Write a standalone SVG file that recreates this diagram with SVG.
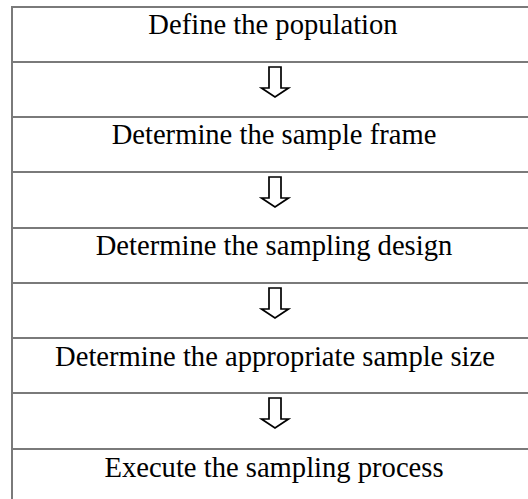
<svg xmlns="http://www.w3.org/2000/svg" xmlns:xlink="http://www.w3.org/1999/xlink" width="528" height="499" viewBox="0 0 528 499">
<style>
.grid{stroke:#7a7a7a;stroke-width:2;fill:none}
.lbl{font-family:"Liberation Serif","Times New Roman",serif;font-size:28.6px;fill:#000;text-anchor:middle}
.arr{fill:#fff;stroke:#000;stroke-width:1.7;stroke-linejoin:miter}
</style>
<defs>
<path id="arrow" class="arr" d="M269,5 H281 V26 H288.5 L275,35 L261.5,26 H269 Z"/>
</defs>
<rect width="528" height="499" fill="#fff"/>
<g id="table">
<path class="grid" d="M12,6 V499 M11,7 H528 M12,62 H528 M12,117 H528 M12,172 H528 M12,228 H528 M12,283 H528 M12,338 H528 M12,393 H528 M12,449 H528"/>
</g>
<g id="node1"><text class="lbl" x="273" y="34">Define the population</text></g>
<g id="node2"><text class="lbl" x="274" y="144">Determine the sample frame</text></g>
<g id="node3"><text class="lbl" x="274" y="255">Determine the sampling design</text></g>
<g id="node4"><text class="lbl" x="275" y="366">Determine the appropriate sample size</text></g>
<g id="node5"><text class="lbl" x="274" y="477">Execute the sampling process</text></g>
<g id="connectors">
<use xlink:href="#arrow" transform="translate(0,62)"/>
<use xlink:href="#arrow" transform="translate(0,172)"/>
<use xlink:href="#arrow" transform="translate(0,283)"/>
<use xlink:href="#arrow" transform="translate(0,393)"/>
</g>
</svg>
